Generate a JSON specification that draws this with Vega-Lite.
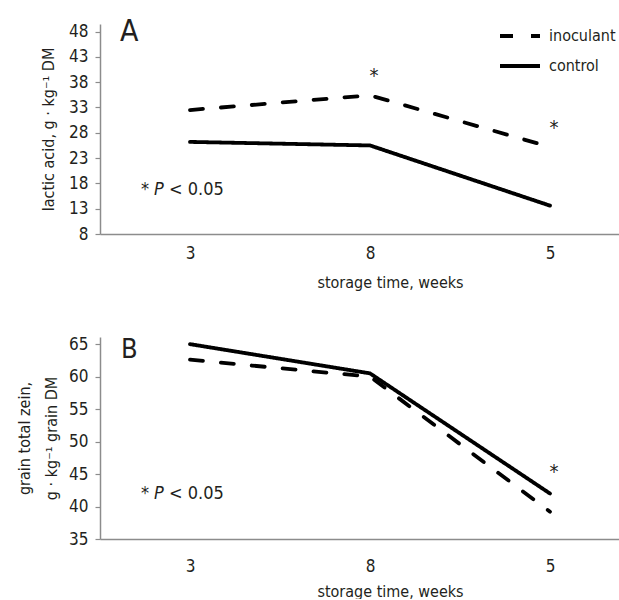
{
  "$schema": "https://vega.github.io/schema/vega-lite/v6.json",
  "background": "white",
  "padding": {"left": 16, "top": 14, "right": 0, "bottom": 0},
  "spacing": 45,
  "config": {
    "font": "DejaVu Sans Condensed",
    "view": {"stroke": null},
    "text": {"color": "#231f20", "font": "DejaVu Sans Condensed"},
    "axis": {
      "labelFont": "DejaVu Sans Condensed",
      "titleFont": "DejaVu Sans Condensed",
      "labelColor": "#231f20",
      "titleColor": "#231f20",
      "labelFontSize": 17,
      "titleFontSize": 16,
      "titleFontWeight": "normal",
      "domainColor": "#8c8c8c",
      "domainWidth": 1.5,
      "tickColor": "#8c8c8c",
      "tickWidth": 1.2,
      "labelOverlap": false,
      "grid": false
    },
    "legend": {"labelFont": "DejaVu Sans Condensed"}
  },
  "datasets": {
    "lactic": [
      {"week": "3", "treatment": "inoculant", "value": 32.5},
      {"week": "8", "treatment": "inoculant", "value": 35.4},
      {"week": "5", "treatment": "inoculant", "value": 25.2},
      {"week": "3", "treatment": "control", "value": 26.2},
      {"week": "8", "treatment": "control", "value": 25.5},
      {"week": "5", "treatment": "control", "value": 13.6}
    ],
    "zein": [
      {"week": "3", "treatment": "inoculant", "value": 62.6},
      {"week": "8", "treatment": "inoculant", "value": 60.0},
      {"week": "5", "treatment": "inoculant", "value": 39.2},
      {"week": "3", "treatment": "control", "value": 65.0},
      {"week": "8", "treatment": "control", "value": 60.5},
      {"week": "5", "treatment": "control", "value": 42.0}
    ],
    "sigA": [
      {"week": "8", "value": 35.4},
      {"week": "5", "value": 25.2}
    ],
    "sigB": [
      {"week": "5", "value": 42.0}
    ],
    "one": [{}]
  },
  "resolve": {"legend": {"strokeDash": "independent"}},
  "vconcat": [
    {
      "width": 519,
      "height": 210,
      "layer": [
        {
          "data": {"name": "lactic"},
          "mark": {"type": "line", "color": "black", "strokeWidth": 3.8, "strokeCap": "round"},
          "encoding": {
            "x": {
              "field": "week", "type": "ordinal",
              "scale": {"type": "point", "domain": ["3", "8", "5"], "padding": 0.4417, "align": 0.566},
              "axis": {"title": "storage time, weeks", "labelAngle": 0, "ticks": false, "labelPadding": 11, "titlePadding": 13, "titleX": 290}
            },
            "y": {
              "field": "value", "type": "quantitative",
              "scale": {"domain": [8, 49.5], "nice": false, "zero": false},
              "axis": {"title": "lactic acid, g · kg⁻¹ DM", "values": [8, 13, 18, 23, 28, 33, 38, 43, 48], "tickCount": 9, "tickSize": 5, "labelPadding": 7, "titlePadding": 12}
            },
            "strokeDash": {
              "field": "treatment", "type": "nominal",
              "scale": {"domain": ["inoculant", "control"], "range": [[13, 18], [1, 0]]},
              "legend": {
                "title": null, "orient": "none", "legendX": 398, "legendY": -10,
                "symbolType": "stroke", "symbolSize": 1600, "symbolStrokeWidth": 3.8,
                "symbolStrokeColor": "black",
                "labelFontSize": 16, "labelColor": "#231f20", "labelOffset": 7,
                "rowPadding": -18, "padding": 0
              }
            }
          }
        },
        {
          "data": {"name": "sigA"},
          "mark": {"type": "text", "text": "*", "fontSize": 20, "dy": -19, "dx": 4},
          "encoding": {
            "x": {"field": "week", "type": "ordinal"},
            "y": {"field": "value", "type": "quantitative"}
          }
        },
        {
          "data": {"name": "one"},
          "mark": {"type": "text", "text": "A", "fontSize": 30, "align": "left", "baseline": "middle", "dx": -70},
          "encoding": {"x": {"datum": "3", "type": "ordinal"}, "y": {"datum": 48, "type": "quantitative"}}
        },
        {
          "data": {"name": "one"},
          "mark": {"type": "text", "text": "*", "fontSize": 18, "align": "left", "baseline": "middle", "dx": -49},
          "encoding": {"x": {"datum": "3", "type": "ordinal"}, "y": {"datum": 16.7, "type": "quantitative"}}
        },
        {
          "data": {"name": "one"},
          "mark": {"type": "text", "text": "P", "fontSize": 18, "fontStyle": "italic", "align": "left", "baseline": "middle", "dx": -36},
          "encoding": {"x": {"datum": "3", "type": "ordinal"}, "y": {"datum": 16.7, "type": "quantitative"}}
        },
        {
          "data": {"name": "one"},
          "mark": {"type": "text", "text": "< 0.05", "fontSize": 18, "align": "left", "baseline": "middle", "dx": -21},
          "encoding": {"x": {"datum": "3", "type": "ordinal"}, "y": {"datum": 16.7, "type": "quantitative"}}
        }
      ]
    },
    {
      "width": 519,
      "height": 202,
      "layer": [
        {
          "data": {"name": "zein"},
          "mark": {"type": "line", "color": "black", "strokeWidth": 3.8, "strokeCap": "round"},
          "encoding": {
            "x": {
              "field": "week", "type": "ordinal",
              "scale": {"type": "point", "domain": ["3", "8", "5"], "padding": 0.4417, "align": 0.566},
              "axis": {"title": "storage time, weeks", "labelAngle": 0, "ticks": false, "labelPadding": 19, "titlePadding": 9, "titleX": 290}
            },
            "y": {
              "field": "value", "type": "quantitative",
              "scale": {"domain": [35, 66.1], "nice": false, "zero": false},
              "axis": {"title": ["grain total zein,", "g · kg⁻¹ grain DM"], "titleLineHeight": 27, "values": [35, 40, 45, 50, 55, 60, 65], "tickCount": 7, "tickSize": 5, "labelPadding": 7, "titlePadding": 9}
            },
            "strokeDash": {
              "field": "treatment", "type": "nominal",
              "legend": null
            }
          }
        },
        {
          "data": {"name": "sigB"},
          "mark": {"type": "text", "text": "*", "fontSize": 20, "dy": -22, "dx": 4},
          "encoding": {
            "x": {"field": "week", "type": "ordinal"},
            "y": {"field": "value", "type": "quantitative"}
          }
        },
        {
          "data": {"name": "one"},
          "mark": {"type": "text", "text": "B", "fontSize": 27, "align": "left", "baseline": "middle", "dx": -69, "dy": 6},
          "encoding": {"x": {"datum": "3", "type": "ordinal"}, "y": {"datum": 65, "type": "quantitative"}}
        },
        {
          "data": {"name": "one"},
          "mark": {"type": "text", "text": "*", "fontSize": 18, "align": "left", "baseline": "middle", "dx": -49},
          "encoding": {"x": {"datum": "3", "type": "ordinal"}, "y": {"datum": 41.9, "type": "quantitative"}}
        },
        {
          "data": {"name": "one"},
          "mark": {"type": "text", "text": "P", "fontSize": 18, "fontStyle": "italic", "align": "left", "baseline": "middle", "dx": -36},
          "encoding": {"x": {"datum": "3", "type": "ordinal"}, "y": {"datum": 41.9, "type": "quantitative"}}
        },
        {
          "data": {"name": "one"},
          "mark": {"type": "text", "text": "< 0.05", "fontSize": 18, "align": "left", "baseline": "middle", "dx": -21},
          "encoding": {"x": {"datum": "3", "type": "ordinal"}, "y": {"datum": 41.9, "type": "quantitative"}}
        }
      ]
    }
  ]
}
